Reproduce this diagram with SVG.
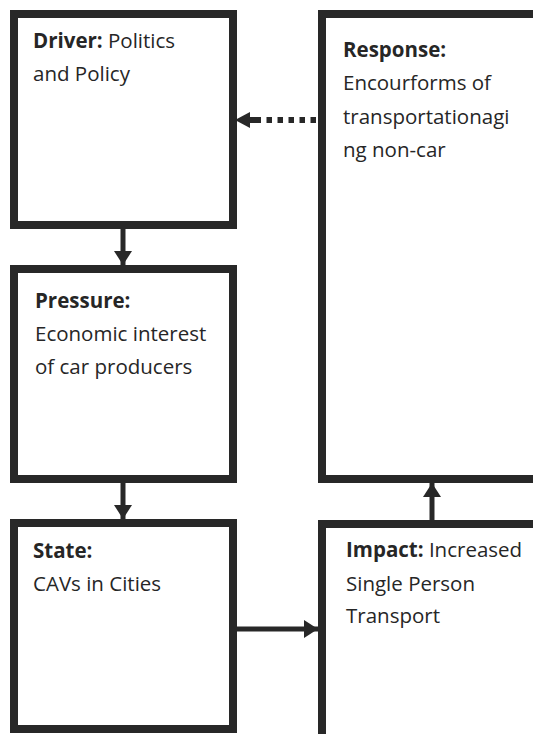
<svg xmlns="http://www.w3.org/2000/svg" width="533" height="734" viewBox="0 0 533 734">
<style>
.box{fill:#fff;stroke:#282828;stroke-width:8}
.t{font-family:"Open Sans","Liberation Sans",sans-serif;font-size:20.5px;fill:#262626}
.b{font-weight:bold}
.c{stroke:#282828;stroke-width:5;fill:none}
</style>
<defs>
<marker id="ah" markerUnits="userSpaceOnUse" markerWidth="16" markerHeight="18" refX="14" refY="9" orient="auto">
<path d="M0,0 L14,9 L0,18 Z" fill="#282828"/>
</marker>
</defs>
<rect width="533" height="734" fill="#fff"/>
<g id="driver">
<rect class="box" x="14" y="14" width="219" height="211"/>
<text class="t" x="33" y="48"><tspan class="b">Driver:</tspan> Politics</text>
<text class="t" x="33" y="81">and Policy</text>
</g>
<g id="pressure">
<rect class="box" x="14" y="269" width="219" height="210"/>
<text class="t b" x="35" y="308">Pressure:</text>
<text class="t" x="35" y="341">Economic interest</text>
<text class="t" x="35" y="374">of car producers</text>
</g>
<g id="state">
<rect class="box" x="14" y="523" width="219" height="206"/>
<text class="t b" x="33" y="558">State:</text>
<text class="t" x="33" y="591">CAVs in Cities</text>
</g>
<g id="response">
<rect class="box" x="322" y="14" width="230" height="465"/>
<text class="t b" x="343" y="57">Response:</text>
<text class="t" x="343" y="90">Encourforms of</text>
<text class="t" x="343" y="124">transportationagi</text>
<text class="t" x="343" y="157">ng non-car</text>
</g>
<g id="impact">
<rect class="box" x="322" y="524" width="230" height="230"/>
<text class="t" x="346" y="557"><tspan class="b">Impact:</tspan> Increased</text>
<text class="t" x="346" y="591">Single Person</text>
<text class="t" x="346" y="623">Transport</text>
</g>
<g id="connectors">
<line class="c" x1="123" y1="229" x2="123" y2="265" marker-end="url(#ah)"/>
<line class="c" x1="123" y1="483" x2="123" y2="519" marker-end="url(#ah)"/>
<line class="c" x1="237" y1="629" x2="318" y2="629" marker-end="url(#ah)"/>
<line class="c" x1="432" y1="520" x2="432" y2="483" marker-end="url(#ah)"/>
<line x1="316" y1="120" x2="250" y2="120" stroke="#282828" stroke-width="6" stroke-dasharray="5.5,5.5"/>
<path d="M235,120 L250,112 L250,128 Z" fill="#282828"/>
<line x1="248" y1="120" x2="257" y2="120" stroke="#282828" stroke-width="6"/>
</g>
</svg>
